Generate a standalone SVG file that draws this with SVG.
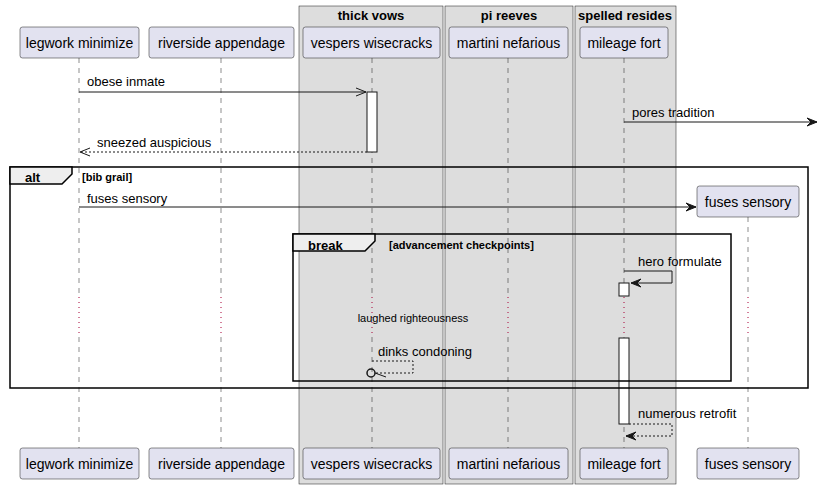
<svg xmlns="http://www.w3.org/2000/svg" width="819" height="489" viewBox="0 0 819 489">
<style>
.grp{fill:#DDDDDD;stroke:#181818;stroke-width:0.5}
.gt{font-family:"Liberation Sans",Arial,sans-serif;font-size:13px;font-weight:bold;fill:#000;text-anchor:middle}
.p rect{fill:#E2E2F0;stroke:#181818;stroke-width:0.5}
.p text{font-family:"Liberation Sans",Arial,sans-serif;font-size:14px;fill:#000;text-anchor:middle}
.ll{stroke:#181818;stroke-width:0.5;stroke-dasharray:5,5;fill:none}
.dl{stroke:#A80036;stroke-width:1;stroke-dasharray:1,4;fill:none}
.act{fill:#FFFFFF;stroke:#181818;stroke-width:1}
.m{stroke:#181818;stroke-width:1;fill:none}
.d{stroke:#181818;stroke-width:1;fill:none;stroke-dasharray:2,2}
.ah{fill:#181818;stroke:#181818;stroke-width:1}
.mt{font-family:"Liberation Sans",Arial,sans-serif;font-size:13px;fill:#000}
.fr{fill:none;stroke:#000;stroke-width:1.5}
.tab{fill:#EEEEEE;stroke:#000;stroke-width:1.5}
.ft{font-family:"Liberation Sans",Arial,sans-serif;font-size:13px;font-weight:bold;fill:#000}
.fg{font-family:"Liberation Sans",Arial,sans-serif;font-size:11px;font-weight:bold;fill:#000}
.dt{font-family:"Liberation Sans",Arial,sans-serif;font-size:11px;fill:#000;text-anchor:middle}
</style>
<rect width="819" height="489" fill="#FFFFFF"/>
<g id="box-thick-vows">
<rect class="grp" x="299" y="6" width="144" height="478"/>
<text class="gt" x="371" y="20">thick vows</text>
</g>
<g id="box-pi-reeves">
<rect class="grp" x="445" y="6" width="128" height="478"/>
<text class="gt" x="509" y="20">pi reeves</text>
</g>
<g id="box-spelled-resides">
<rect class="grp" x="575" y="6" width="101" height="478"/>
<text class="gt" x="625" y="20">spelled resides</text>
</g>
<g id="lifelines">
<path class="ll" d="M79,58V297M79,337V448"/>
<path class="ll" d="M221,58V297M221,337V448"/>
<path class="ll" d="M372,58V297M372,337V448"/>
<path class="ll" d="M508,58V297M508,337V448"/>
<path class="ll" d="M624,58V297M624,337V448"/>
<path class="ll" d="M748,217V297M748,337V448"/>
<path class="dl" d="M79,297V337M221,297V337M372,297V337M508,297V337M624,297V337M748,297V337"/>
</g>
<g id="activations">
<rect class="act" x="367" y="92" width="10" height="60"/>
<rect class="act" x="619" y="283" width="10" height="13"/>
<rect class="act" x="619" y="338" width="10" height="86"/>
</g>
<g id="frames">
<rect class="fr" x="10" y="167" width="798" height="221"/>
<path class="tab" d="M10,167H72V174L62,184H10Z"/>
<text class="ft" x="25" y="182">alt</text>
<text class="fg" x="82" y="181">[bib grail]</text>
<rect class="fr" x="293" y="234" width="438" height="147"/>
<path class="tab" d="M293,234H375V241L365,251H293Z"/>
<text class="ft" x="308" y="250">break</text>
<text class="fg" x="389" y="249">[advancement checkpoints]</text>
</g>
<g id="connectors">
<path class="m" d="M79,92H366M356,88L366,92L356,96"/>
<text class="mt" x="87" y="86">obese inmate</text>
<path class="m" d="M624,122H817"/>
<polygon class="ah" points="807,118 817,122 807,126 811,122"/>
<text class="mt" x="632" y="117">pores tradition</text>
<path class="d" d="M367,152H80"/>
<path class="m" d="M90,148L80,152L90,156"/>
<text class="mt" x="97" y="147">sneezed auspicious</text>
<path class="m" d="M79,207H696"/>
<polygon class="ah" points="686,203 696,207 686,211 690,207"/>
<text class="mt" x="87" y="203">fuses sensory</text>
<path class="m" d="M624,271H672V283H631"/>
<polygon class="ah" points="641,279 631,283 641,287 637,283"/>
<text class="mt" x="638" y="266">hero formulate</text>
<text class="dt" x="413" y="322">laughed righteousness</text>
<path class="d" d="M372,361H413V373H376"/>
<circle cx="371" cy="373" r="4" fill="none" stroke="#181818" stroke-width="1.5"/>
<path class="m" d="M375,373L386,377"/>
<text class="mt" x="378" y="356">dinks condoning</text>
<path class="d" d="M629,424H672V436H626"/>
<polygon class="ah" points="636,432 626,436 636,440 632,436"/>
<text class="mt" x="638" y="418">numerous retrofit</text>
</g>
<g id="p-legwork-minimize" class="p">
<rect x="20" y="27" width="119" height="31" rx="2.5"/>
<text x="79.5" y="48">legwork minimize</text>
<rect x="20" y="448" width="119" height="31" rx="2.5"/>
<text x="79.5" y="469">legwork minimize</text>
</g>
<g id="p-riverside-appendage" class="p">
<rect x="149" y="27" width="145" height="31" rx="2.5"/>
<text x="221.5" y="48">riverside appendage</text>
<rect x="149" y="448" width="145" height="31" rx="2.5"/>
<text x="221.5" y="469">riverside appendage</text>
</g>
<g id="p-vespers-wisecracks" class="p">
<rect x="303" y="27" width="137" height="31" rx="2.5"/>
<text x="371.5" y="48">vespers wisecracks</text>
<rect x="303" y="448" width="137" height="31" rx="2.5"/>
<text x="371.5" y="469">vespers wisecracks</text>
</g>
<g id="p-martini-nefarious" class="p">
<rect x="449" y="27" width="119" height="31" rx="2.5"/>
<text x="508.5" y="48">martini nefarious</text>
<rect x="449" y="448" width="119" height="31" rx="2.5"/>
<text x="508.5" y="469">martini nefarious</text>
</g>
<g id="p-mileage-fort" class="p">
<rect x="580" y="27" width="88" height="31" rx="2.5"/>
<text x="624" y="48">mileage fort</text>
<rect x="580" y="448" width="88" height="31" rx="2.5"/>
<text x="624" y="469">mileage fort</text>
</g>
<g id="p-fuses-sensory" class="p">
<rect x="697" y="186" width="102" height="31" rx="2.5"/>
<text x="748" y="207">fuses sensory</text>
<rect x="697" y="448" width="102" height="31" rx="2.5"/>
<text x="748" y="469">fuses sensory</text>
</g>
</svg>
